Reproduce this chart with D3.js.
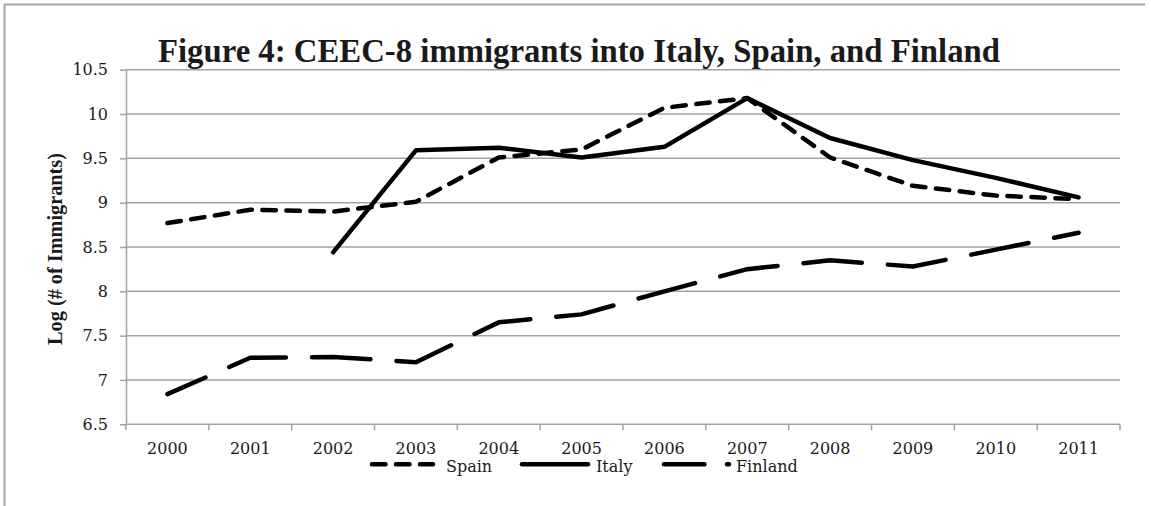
<!DOCTYPE html>
<html>
<head>
<meta charset="utf-8">
<script src="https://cdn.jsdelivr.net/npm/d3@7"></script>
<style>
  html, body { margin: 0; padding: 0; background: #fff; }
  svg { display: block; font-family: "DejaVu Serif", "Liberation Serif", serif; }
</style>
</head>
<body>
<svg id="chart" width="1151" height="506"></svg>
<script>
// Log of immigrant counts from the CEEC-8 countries, by destination country
const years = ["2000", "2001", "2002", "2003", "2004", "2005", "2006", "2007", "2008", "2009", "2010", "2011"];
const spainValues   = [8.77, 8.92, 8.90, 9.01, 9.51, 9.60, 10.07, 10.18, 9.51, 9.19, 9.08, 9.04];
const italyValues   = [null, null, 8.44, 9.59, 9.62, 9.51, 9.63, 10.18, 9.73, 9.48, 9.28, 9.06];
const finlandValues = [6.84, 7.25, 7.26, 7.20, 7.65, 7.74, 8.00, 8.25, 8.35, 8.28, 8.47, 8.66];
const yTickValues   = [6.5, 7, 7.5, 8, 8.5, 9, 9.5, 10, 10.5];
const seriesNames   = ["Spain", "Italy", "Finland"];

const svg = d3.select("#chart");
const plot = { left: 126, right: 1120, top: 69.7, bottom: 424.3 };
const grey = "#a3a3a3";
const ink = "#1a1a1a";
const tickFont = 16;
const bodyFamily = "'DejaVu Serif', serif";
const titleFamily = "'Liberation Serif', serif";

// frame line around the chart area (top and left edges)
svg.append("line").attr("x1", 4).attr("x2", 1145).attr("y1", 4.5).attr("y2", 4.5)
  .attr("stroke", grey).attr("stroke-width", 2);
svg.append("line").attr("x1", 4.5).attr("x2", 4.5).attr("y1", 4).attr("y2", 506)
  .attr("stroke", grey).attr("stroke-width", 2);

const x = d3.scaleBand().domain(years).range([plot.left, plot.right]).padding(0);
const y = d3.scaleLinear().domain([6.5, 10.5]).range([plot.bottom, plot.top]);
const cx = d => x(d) + x.bandwidth() / 2;

// horizontal gridlines
svg.append("g").selectAll("line").data(yTickValues).join("line")
  .attr("x1", plot.left).attr("x2", plot.right)
  .attr("y1", d => y(d)).attr("y2", d => y(d))
  .attr("stroke", grey).attr("stroke-width", 1.5);

// y axis
const yAxis = svg.append("g").attr("transform", `translate(${plot.left},0)`)
  .call(d3.axisLeft(y).tickValues(yTickValues).tickFormat(d => String(d)).tickSize(6).tickPadding(12).tickSizeOuter(0));
yAxis.selectAll("path, line").attr("stroke", grey).attr("stroke-width", 1.5);
yAxis.selectAll("text").style("font-size", tickFont + "px").style("font-family", bodyFamily).attr("fill", ink);

// x axis: labels centred in each band, tick marks on band boundaries
const xAxis = svg.append("g").attr("transform", `translate(0,${plot.bottom})`)
  .call(d3.axisBottom(x).tickSize(0).tickPadding(18).tickSizeOuter(0));
xAxis.select(".domain").remove();
xAxis.selectAll("text").style("font-size", tickFont + "px").style("font-family", bodyFamily).attr("fill", ink);
const boundaries = years.map(d => x(d)).concat([x(years[years.length - 1]) + x.bandwidth()]);
svg.append("g").selectAll("line").data(boundaries).join("line")
  .attr("x1", d => d).attr("x2", d => d)
  .attr("y1", plot.bottom).attr("y2", plot.bottom + 6)
  .attr("stroke", grey).attr("stroke-width", 1.5);

// series lines
const lineGen = d3.line()
  .defined(d => d.v !== null)
  .x(d => cx(d.year))
  .y(d => y(d.v));
const toPoints = vals => years.map((yr, i) => ({ year: yr, v: vals[i] }));

const styles = {
  Spain:   { values: spainValues,   dash: "13.5,10.5", offset: 0 },
  Italy:   { values: italyValues,   dash: null,        offset: 0 },
  Finland: { values: finlandValues, dash: "58.5,26.1", offset: 17 }
};

seriesNames.forEach(name => {
  const s = styles[name];
  const p = svg.append("path")
    .datum(toPoints(s.values))
    .attr("d", lineGen)
    .attr("fill", "none")
    .attr("stroke", "#000")
    .attr("stroke-width", 4.5)
    .attr("stroke-linecap", "round")
    .attr("stroke-linejoin", "round");
  if (s.dash) p.attr("stroke-dasharray", s.dash).attr("stroke-dashoffset", s.offset);
});

// legend
const legendY = 464.3;
const legendItems = [
  { name: "Spain",   x1: 372, x2: 433, dash: "13.5,10.5", tx: 446 },
  { name: "Italy",   x1: 522, x2: 588, dash: null,        tx: 596 },
  { name: "Finland", x1: 664, x2: 729, dash: "40.5,22.5", tx: 736 }
];
legendItems.forEach(it => {
  const l = svg.append("line")
    .attr("x1", it.x1).attr("x2", it.x2).attr("y1", legendY).attr("y2", legendY)
    .attr("stroke", "#000").attr("stroke-width", 4.5).attr("stroke-linecap", "round");
  if (it.dash) l.attr("stroke-dasharray", it.dash);
  svg.append("text").attr("x", it.tx).attr("y", legendY + 7.4)
    .style("font-family", bodyFamily).style("font-size", tickFont + "px")
    .attr("fill", ink).text(it.name);
});

// fit a text element to a target width by scaling its font size
function fitWidth(sel, startSize, target) {
  sel.style("font-size", startSize + "px");
  const w = sel.node().getComputedTextLength();
  sel.style("font-size", (startSize * target / w) + "px");
}

// title
const title = svg.append("text")
  .attr("x", 158).attr("y", 62)
  .style("font-family", titleFamily).style("font-weight", "bold")
  .attr("fill", ink)
  .text("Figure 4: CEEC-8 immigrants into Italy, Spain, and Finland");
fitWidth(title, 30, 842);

// y axis title
const yTitle = svg.append("text")
  .attr("transform", "translate(62,249) rotate(-90)")
  .attr("text-anchor", "middle")
  .style("font-family", titleFamily).style("font-weight", "bold")
  .attr("fill", ink)
  .text("Log (# of Immigrants)");
fitWidth(yTitle, 14, 192);
</script>
</body>
</html>
